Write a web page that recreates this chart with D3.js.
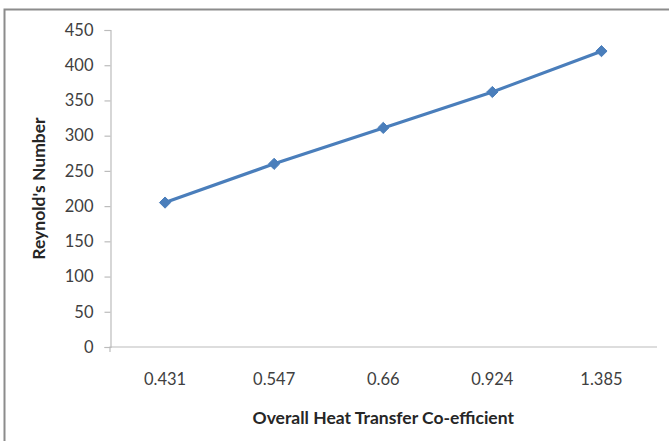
<!DOCTYPE html>
<html>
<head>
<meta charset="utf-8">
<script src="https://cdn.jsdelivr.net/npm/d3@7"></script>
<style>
  html, body { margin: 0; padding: 0; background: #fff; }
  svg { display: block; }
  text { font-family: Lato, "Open Sans", sans-serif; }
</style>
</head>
<body>
<svg id="chart" width="669" height="441"></svg>
<script>
// Reynold's number against overall heat transfer co-efficient
const categories = ["0.431", "0.547", "0.66", "0.924", "1.385"];
const reynolds = [205, 260, 311, 362, 420];
const yTicks = [0, 50, 100, 150, 200, 250, 300, 350, 400, 450];
const xTitle = "Overall Heat Transfer Co-efficient";
const yTitle = "Reynold's Number";

const svg = d3.select("#chart");
const W = 669, H = 441;
const plot = { left: 110.5, right: 656, top: 30, bottom: 347 };

// chart-area frame (only top and left edges fall inside the view)
svg.append("rect")
  .attr("x", 4.5).attr("y", 9.5)
  .attr("width", W + 20).attr("height", H + 20)
  .attr("fill", "#fff")
  .attr("stroke", "#8c8c8c").attr("stroke-width", 2);

const x = d3.scaleBand().domain(categories).range([plot.left, plot.right]).padding(0);
const y = d3.scaleLinear().domain([0, 450]).range([plot.bottom, plot.top]);

// y axis
const yAxis = svg.append("g")
  .attr("transform", `translate(${plot.left},0)`)
  .call(d3.axisLeft(y).tickValues(yTicks).tickSize(6).tickPadding(11).tickFormat(d3.format("d")));
yAxis.select(".domain").attr("stroke", "#bcbcbc").attr("stroke-width", 1.2);
yAxis.selectAll(".tick line").attr("stroke", "#bcbcbc").attr("stroke-width", 1.2);
yAxis.selectAll(".tick text")
  .attr("fill", "#404040").style("font-size", "16.5px");

// x axis
const xAxis = svg.append("g")
  .attr("transform", `translate(0,${plot.bottom})`)
  .call(d3.axisBottom(x).tickSize(0).tickPadding(26));
xAxis.select(".domain").attr("stroke", "#bcbcbc").attr("stroke-width", 1.2)
  .attr("d", `M${plot.left - 0.5},5V0H${plot.right + 1}`);
xAxis.selectAll(".tick text")
  .attr("fill", "#404040").style("font-size", "16.5px");

// axis titles
svg.append("text")
  .attr("x", (plot.left + plot.right) / 2).attr("y", 424)
  .attr("text-anchor", "middle")
  .attr("fill", "#262626")
  .style("font-size", "17.5px").style("font-weight", "bold")
  .text(xTitle);

svg.append("text")
  .attr("transform", `translate(45,${(plot.top + plot.bottom) / 2}) rotate(-90)`)
  .attr("text-anchor", "middle")
  .attr("fill", "#262626")
  .style("font-size", "17.5px").style("font-weight", "bold")
  .text(yTitle);

// series line
const cx = d => x(d) + x.bandwidth() / 2;
const line = d3.line()
  .x((d, i) => cx(categories[i]))
  .y(d => y(d));

svg.append("path")
  .datum(reynolds)
  .attr("d", line)
  .attr("fill", "none")
  .attr("stroke", "#4a7ebb")
  .attr("stroke-width", 3.2)
  .attr("stroke-linejoin", "round");

// diamond markers
svg.append("g").selectAll("path")
  .data(reynolds)
  .join("path")
  .attr("transform", (d, i) => `translate(${cx(categories[i])},${y(d)})`)
  .attr("d", d3.symbol().type(d3.symbolDiamond2).size(80))
  .attr("fill", "#4a7ebb")
  .attr("stroke", "#4a7ebb")
  .attr("stroke-width", 1);
</script>
</body>
</html>
